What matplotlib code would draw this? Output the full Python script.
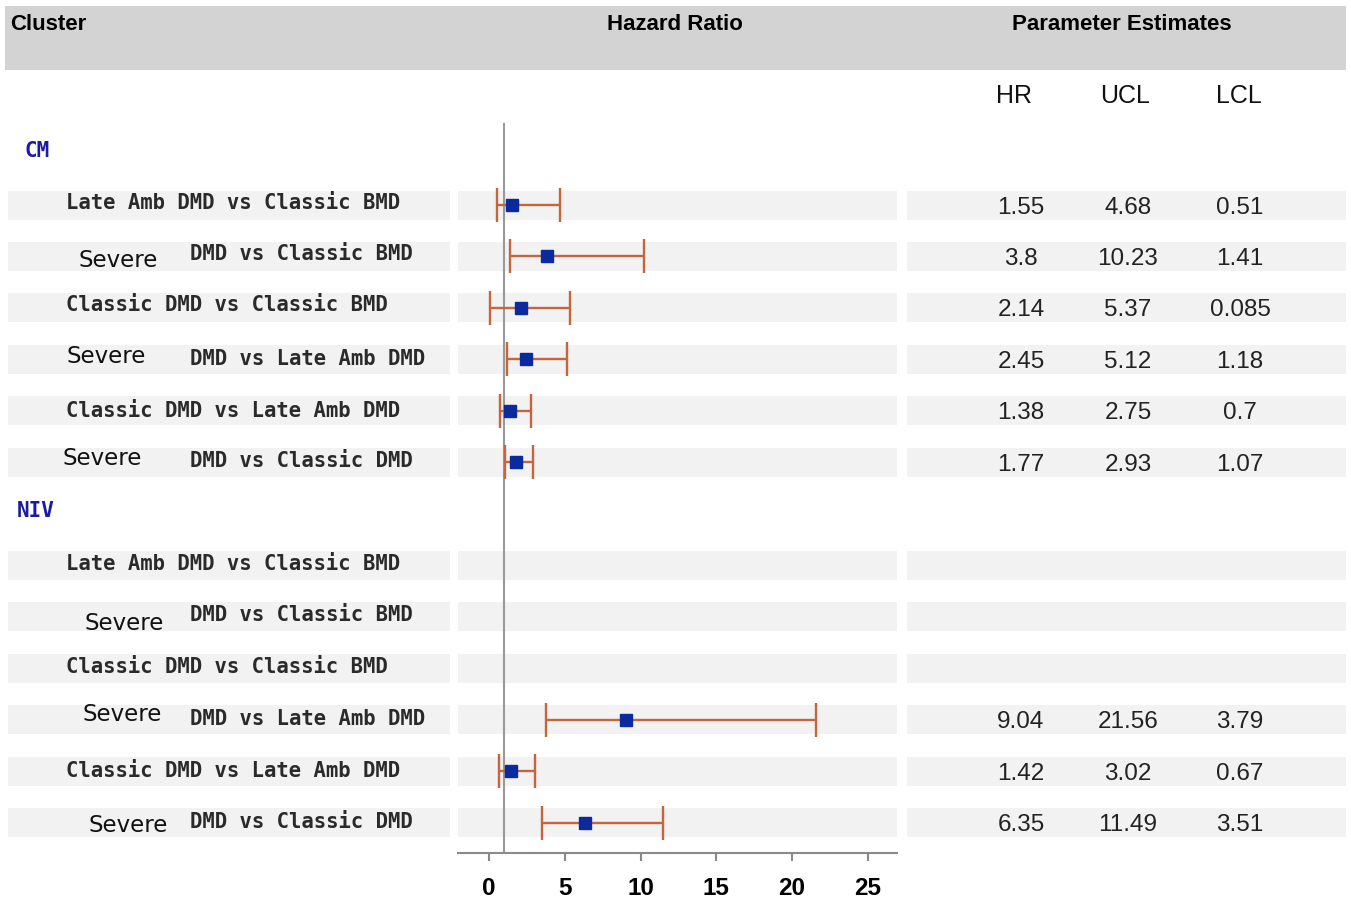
import matplotlib
matplotlib.use("Agg")
import matplotlib.pyplot as plt
from matplotlib.patches import Rectangle

# ---------------- data ----------------
groups = ["CM", "NIV"]
comparisons = [
    "Late Amb DMD vs Classic BMD",
    "Severe DMD vs Classic BMD",
    "Classic DMD vs Classic BMD",
    "Severe DMD vs Late Amb DMD",
    "Classic DMD vs Late Amb DMD",
    "Severe DMD vs Classic DMD",
]
hr_cm = [1.55, 3.8, 2.14, 2.45, 1.38, 1.77]
ucl_cm = [4.68, 10.23, 5.37, 5.12, 2.75, 2.93]
lcl_cm = [0.51, 1.41, 0.085, 1.18, 0.7, 1.07]
hr_niv = [None, None, None, 9.04, 1.42, 6.35]
ucl_niv = [None, None, None, 21.56, 3.02, 11.49]
lcl_niv = [None, None, None, 3.79, 0.67, 3.51]
xticks = [0, 5, 10, 15, 20, 25]
col_headers = ["HR", "UCL", "LCL"]

# ---------------- layout ----------------
W, H = 1351, 906
fig = plt.figure(figsize=(W / 100, H / 100), dpi=100)
bg = fig.add_axes([0, 0, 1, 1])
bg.set_xlim(0, W)
bg.set_ylim(H, 0)
bg.axis("off")

ROW0, STEP = 205.0, 51.46
def ypx(idx):
    return ROW0 + STEP * (idx - 1)

BAND_HALF = 14.5
band_col = "#f2f2f2"
mono = "DejaVu Sans Mono"
sans = "Liberation Sans"

# header band
bg.add_patch(Rectangle((5, 6), 1341, 64, facecolor="#d3d3d3", edgecolor="none"))
bg.text(10, 30, "Cluster", fontsize=16, fontweight="bold", family=sans, va="baseline", ha="left")
bg.text(675, 30, "Hazard Ratio", fontsize=16, fontweight="bold", family=sans, va="baseline", ha="center")
bg.text(1122, 30, "Parameter Estimates", fontsize=16, fontweight="bold", family=sans, va="baseline", ha="center")
for name, cx in zip(col_headers, [1014, 1125, 1239]):
    bg.text(cx, 103, name, fontsize=18, family=sans, va="baseline", ha="center", color="#111111")

# label layout offsets (baseline offsets from band centre, severe x positions)
full_dy = {0: [4, 3.5, 6.5], 1: [5, 5, 5.5]}
sev_x = {0: [78, 67, 63], 1: [85, 83, 89]}
sev_dy = {0: [11, 3.5, 2.5], 1: [13.5, 1.5, 9]}
rest_dy = {0: [4, 5.5, 4.5], 1: [4, 5.5, 5.5]}

ax = fig.add_axes([458 / W, 1 - 853.3 / H, (897 - 458) / W, (853.3 - 122.7) / H])
ax.set_facecolor("none")
ax.set_xlim((458 - 489) / 15.15, (897 - 489) / 15.15)
ax.set_ylim((853.3 - ROW0) / STEP + 1, (122.7 - ROW0) / STEP + 1)

all_hr = [hr_cm, hr_niv]
all_ucl = [ucl_cm, ucl_niv]
all_lcl = [lcl_cm, lcl_niv]
group_label_y = [150, 510]
group_label_x = [25, 17]

for g, gname in enumerate(groups):
    bg.text(group_label_x[g], group_label_y[g] + 7, gname, fontsize=15, fontweight="bold",
            family=mono, color="#1a1aa6", va="baseline", ha="left")
    fi = si = 0
    for k, comp in enumerate(comparisons):
        idx = g * 7 + 1 + k
        yc = ypx(idx)
        # bands
        bg.add_patch(Rectangle((8, yc - BAND_HALF), 442, 2 * BAND_HALF, facecolor=band_col, edgecolor="none"))
        bg.add_patch(Rectangle((907, yc - BAND_HALF), 439, 2 * BAND_HALF, facecolor=band_col, edgecolor="none"))
        ax.axhspan(idx - BAND_HALF / STEP, idx + BAND_HALF / STEP, color=band_col, zorder=0, lw=0)
        # labels
        if comp.startswith("Severe "):
            bg.text(sev_x[g][si], yc + sev_dy[g][si], "Severe", fontsize=16.5, family="DejaVu Sans",
                    color="#111111", va="baseline", ha="left")
            bg.text(190, yc + rest_dy[g][si], comp[len("Severe "):], fontsize=14.8, family=mono,
                    fontweight="bold", color="#2a2a2a", va="baseline", ha="left")
            si += 1
        else:
            bg.text(66, yc + full_dy[g][fi], comp, fontsize=14.8, family=mono, fontweight="bold",
                    color="#2a2a2a", va="baseline", ha="left")
            fi += 1
        # estimates
        hr, ucl, lcl = all_hr[g][k], all_ucl[g][k], all_lcl[g][k]
        if hr is not None:
            ax.errorbar([hr], [idx], xerr=[[hr - lcl], [ucl - hr]], fmt="s", color="#0b2a9e",
                        ms=8, ecolor="#c4653c", elinewidth=1.7, capsize=12, capthick=1.7, zorder=3)
            for v, cx in zip([hr, ucl, lcl], [1021, 1128, 1240]):
                bg.text(cx, yc + 8.5, str(v), fontsize=17.5, family=sans, color="#222222",
                        va="baseline", ha="center")

ax.axvline(1, color="#999999", lw=1.5, zorder=2)
for s in ["top", "right", "left"]:
    ax.spines[s].set_visible(False)
ax.spines["bottom"].set_color("#8a8a8a")
ax.spines["bottom"].set_linewidth(1.5)
ax.set_yticks([])
ax.set_xticks(xticks)
ax.set_xticklabels([str(t) for t in xticks], fontsize=17.5, fontweight="bold", family=sans)
ax.tick_params(axis="x", length=6, width=1.5, color="#8a8a8a", pad=11)

fig.savefig("out.png", dpi=100)
